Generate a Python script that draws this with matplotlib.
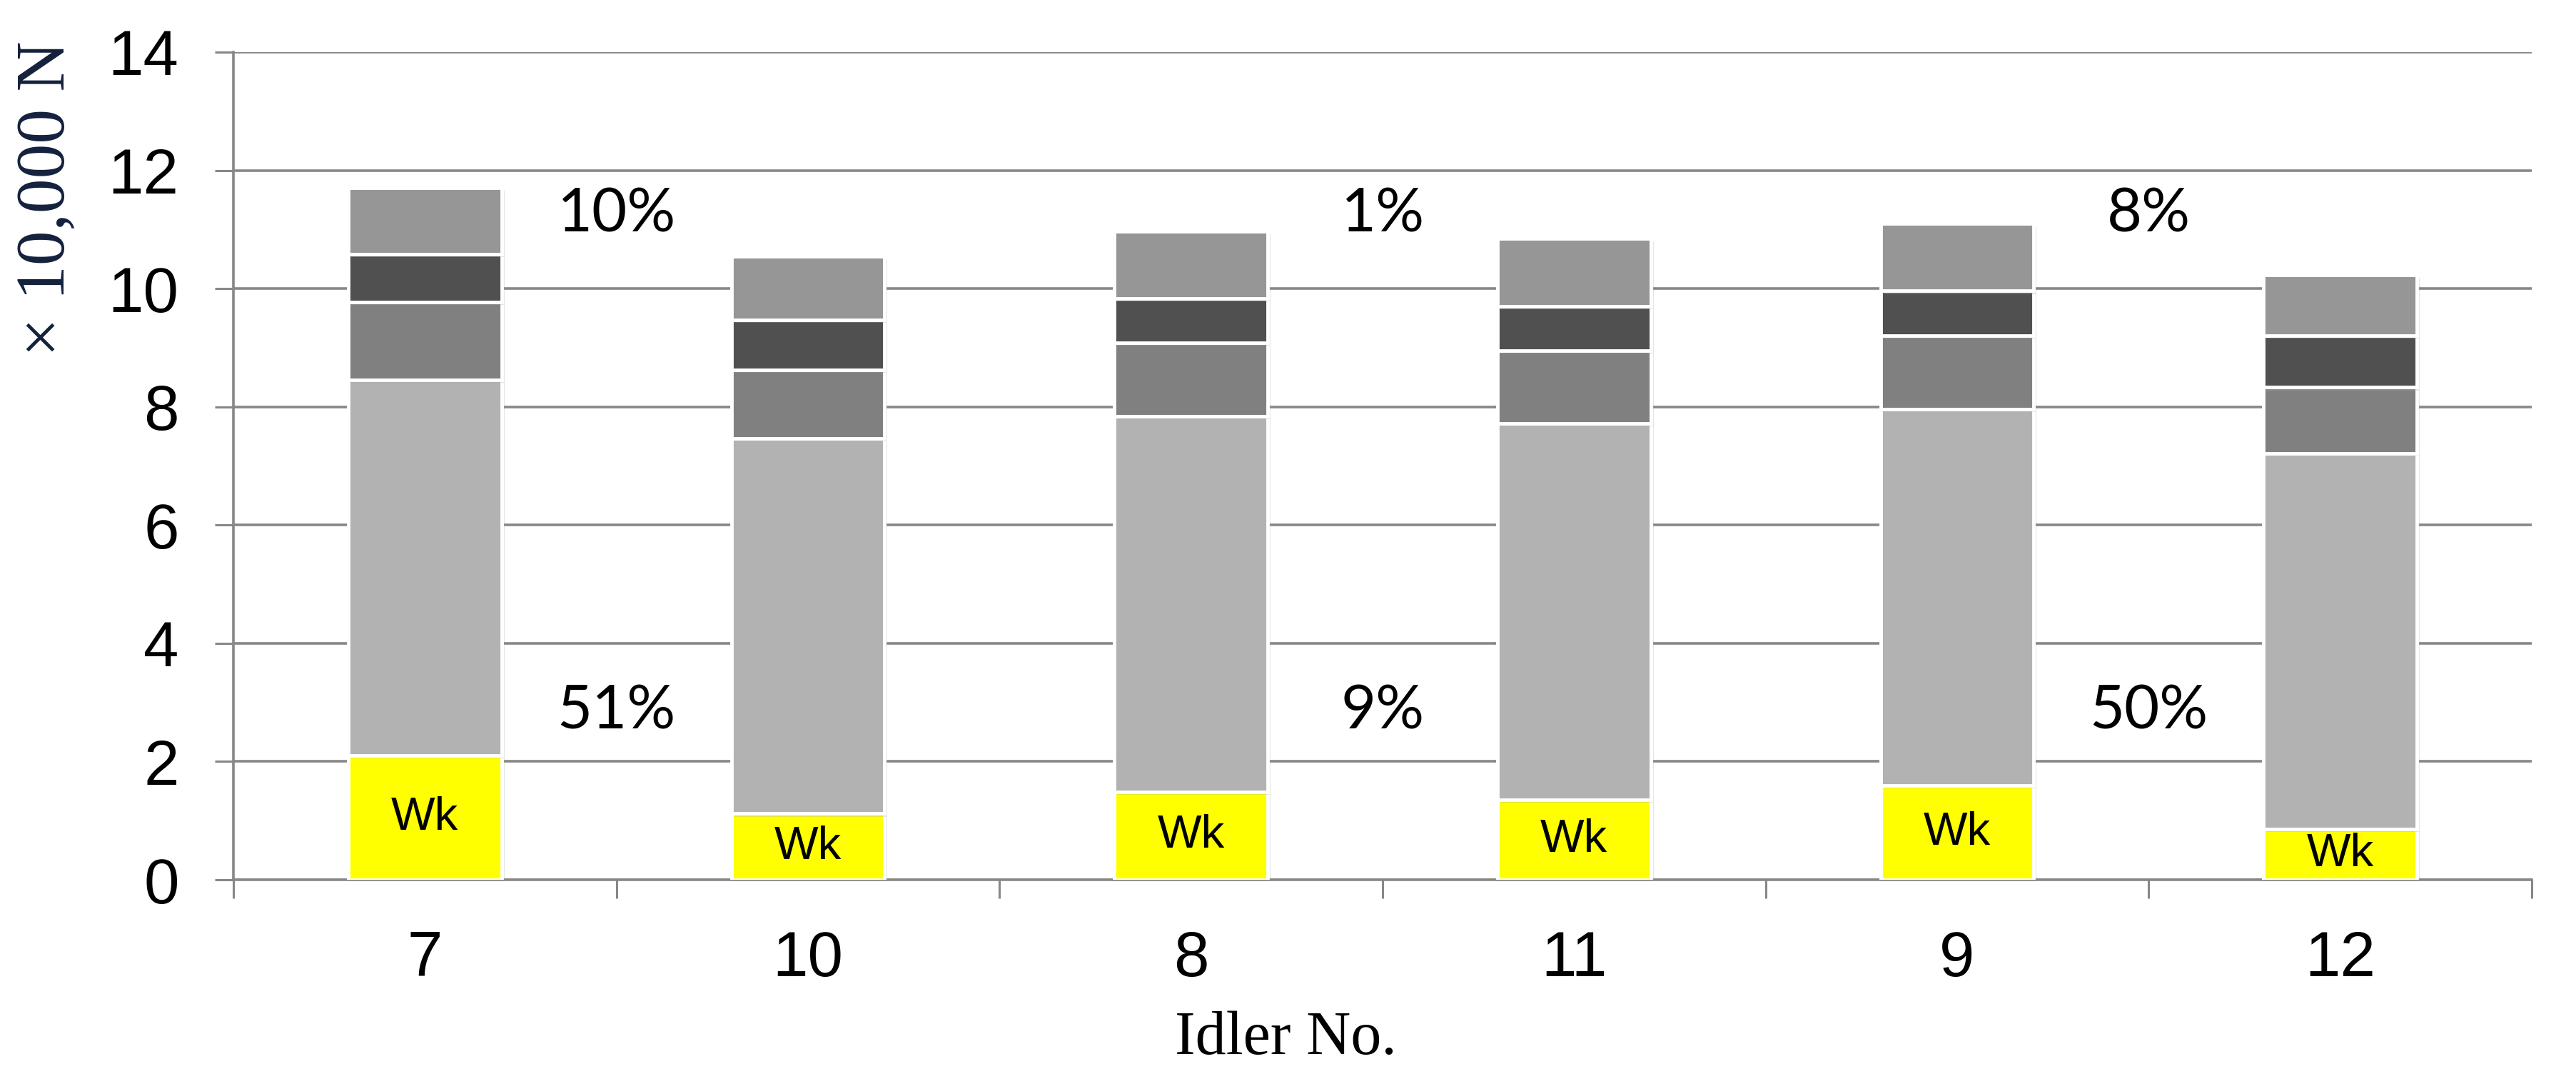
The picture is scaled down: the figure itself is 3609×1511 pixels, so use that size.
import numpy as np
import matplotlib
matplotlib.use("Agg")
import matplotlib.pyplot as plt
import matplotlib.patheffects as pe

# idlers in plotted order
idlers = ["7", "10", "8", "11", "9", "12"]

# stacked force components (x 10,000 N), bottom to top
wk = [2.10, 1.12, 1.49, 1.35, 1.60, 0.86]
seg2 = [6.36, 6.35, 6.35, 6.37, 6.36, 6.35]
seg3 = [1.31, 1.16, 1.24, 1.23, 1.25, 1.12]
seg4 = [0.81, 0.84, 0.75, 0.75, 0.75, 0.88]
seg5 = [1.13, 1.08, 1.14, 1.15, 1.14, 1.02]

# differences between each pair of idlers
top_pct = ["10%", "1%", "8%"]
low_pct = ["51%", "9%", "50%"]

colors = ["#ffff00", "#b2b2b2", "#808080", "#505050", "#969696"]
grid_c = "#878787"

fig = plt.figure(figsize=(36.09, 15.11), dpi=100)
ax = fig.add_axes([0.0906, 0.1846, 0.8922, 0.7671])

x = np.arange(len(idlers))
bottom = np.zeros(len(idlers))
shadow = [pe.SimplePatchShadow(offset=(3, -3), shadow_rgbFace="#aaaaaa", alpha=0.3), pe.Normal()]
for vals, c in zip([wk, seg2, seg3, seg4, seg5], colors):
    bars = ax.bar(x, vals, bottom=bottom, width=0.40, color=c,
                  edgecolor="white", linewidth=3.5, zorder=3)
    for b in bars:
        b.set_path_effects(shadow)
    bottom += np.array(vals)

for i, v in enumerate(wk):
    ax.text(x[i], v / 2, "Wk", ha="center", va="center", fontsize=47,
            family="Liberation Sans", zorder=5)

for k in range(len(top_pct)):
    ax.text(2 * k + 0.5, 11.25, top_pct[k], ha="center", va="center",
            fontsize=61, family="Lato")
    ax.text(2 * k + 0.5, 2.85, low_pct[k], ha="center", va="center",
            fontsize=61, family="Lato")

ax.set_xlim(-0.5, len(idlers) - 0.5)
ax.set_ylim(0, 14)
ax.set_yticks(np.arange(0, 15, 2))
ax.yaxis.grid(True, color=grid_c, linewidth=2.6, zorder=0)
ax.set_axisbelow(True)

ax.set_xticks(x)
ax.set_xticklabels(idlers)
ax.set_xticks(np.arange(-0.5, len(idlers)), minor=True)
ax.tick_params(axis="x", which="major", length=0, pad=50, labelsize=64)
ax.tick_params(axis="x", which="minor", length=19, width=2.2, color=grid_c, direction="out")
ax.tick_params(axis="y", length=19, width=2.2, color=grid_c, pad=36, labelsize=64)
for lab in ax.get_xticklabels() + ax.get_yticklabels():
    lab.set_family("Liberation Sans")

for s in ["top", "right"]:
    ax.spines[s].set_visible(False)
for s in ["left", "bottom"]:
    ax.spines[s].set_color(grid_c)
    ax.spines[s].set_linewidth(2.6)

fig.text(0.0186, 0.962, "× 10,000 N", rotation=90, ha="center", va="top",
         fontsize=70, family="Liberation Serif", color="#14213d")
fig.text(0.499, 0.037, "Idler No.", ha="center", va="center",
         fontsize=62, family="Liberation Serif")

fig.savefig("out.png", dpi=100)
